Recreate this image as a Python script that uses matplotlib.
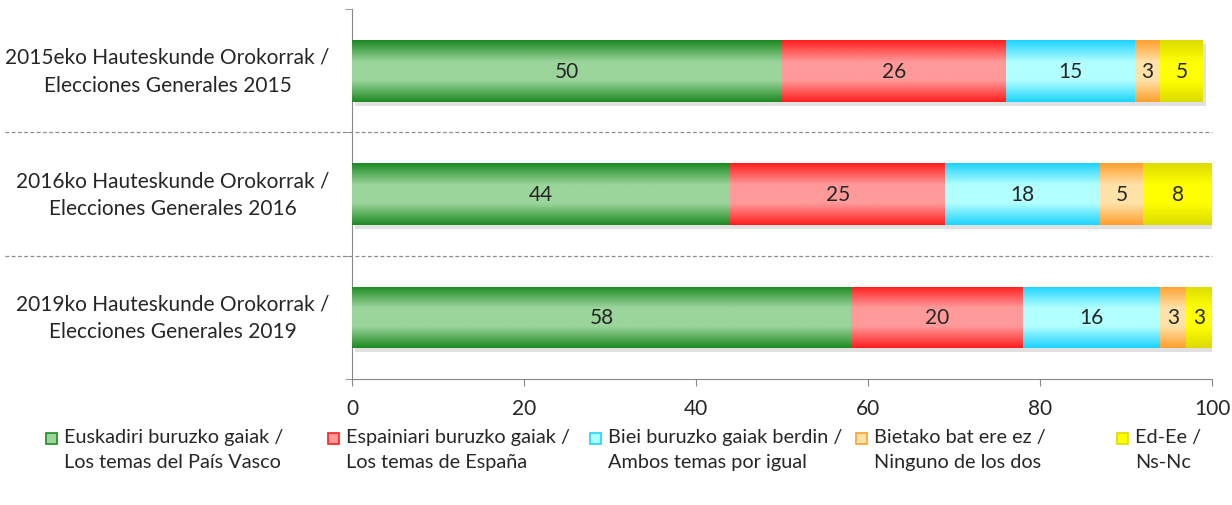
import numpy as np
import matplotlib
matplotlib.use("Agg")
import matplotlib.pyplot as plt
import matplotlib.patheffects as pe
from matplotlib.colors import LinearSegmentedColormap
from matplotlib.patches import Rectangle
import matplotlib.transforms as mtransforms

plt.rcParams['font.family'] = ['Lato', 'DejaVu Sans']

# data
categories = ["2015eko Hauteskunde Orokorrak /\nElecciones Generales 2015",
              "2016ko Hauteskunde Orokorrak /\nElecciones Generales 2016",
              "2019ko Hauteskunde Orokorrak /\nElecciones Generales 2019"]
series_names = ["Euskadiri buruzko gaiak /\nLos temas del País Vasco",
                "Espainiari buruzko gaiak /\nLos temas de España",
                "Biei buruzko gaiak berdin /\nAmbos temas por igual",
                "Bietako bat ere ez /\nNinguno de los dos",
                "Ed-Ee /\nNs-Nc"]
euskadi = [50, 44, 58]
espainia = [26, 25, 20]
biak = [15, 18, 16]
bat_ere_ez = [3, 5, 3]
ed_ee = [5, 8, 3]
values = [euskadi, espainia, biak, bat_ere_ez, ed_ee]
x_ticks = [0, 20, 40, 60, 80, 100]

# gradient colours (edge, centre) per series
edge_colors = ["#1f8a24", "#ff1f1f", "#1fd3ff", "#ffa030", "#dcdc00"]
mid_colors = ["#9bd59b", "#ff9a9a", "#b2ffff", "#ffe2a8", "#ffff00"]

FS = 15
fig = plt.figure(figsize=(12.32, 5.06), dpi=100)
ax = fig.add_axes([352/1232, 1-380/506, 860/1232, 370/506])

y = np.arange(len(categories))
left = np.zeros(len(categories))
grad = np.abs(np.linspace(-1, 1, 64)).reshape(-1, 1)
for vals, ec, mc in zip(values, edge_colors, mid_colors):
    cmap = LinearSegmentedColormap.from_list("g", [(0, mc), (0.3, mc), (1, ec)])
    bars = ax.barh(y, vals, left=left, height=0.5, color=mc, edgecolor="none",
                   path_effects=[pe.SimplePatchShadow(offset=(2, -3), shadow_rgbFace="#aaaaaa", alpha=0.35),
                                 pe.Normal()], zorder=2)
    for b, v in zip(bars, vals):
        x0, y0 = b.get_x(), b.get_y()
        im = ax.imshow(grad, cmap=cmap, vmin=0, vmax=1, aspect="auto",
                       extent=[x0, x0 + b.get_width(), y0 + b.get_height(), y0], zorder=3,
                       interpolation="bilinear")
        im.set_clip_path(b)
        ax.text(x0 + b.get_width() / 2, b.get_y() + b.get_height() / 2, str(v),
                ha="center", va="center", fontsize=FS, color="#262626", zorder=4)
    left = left + np.array(vals)

ax.set_xlim(0, 100)
ax.set_ylim(2.5, -0.5)
ax.set_aspect("auto")
ax.set_xticks(x_ticks)
ax.set_yticks(y)
ax.set_yticklabels(categories)
for t in ax.get_yticklabels():
    t.set_multialignment("center")
    t.set_linespacing(1.5)
    t.set_va("center")
ax.set_yticks([-0.5, 0.5, 1.5, 2.5], minor=True)
ax.tick_params(axis="y", which="major", length=0, pad=16, labelsize=FS, labelcolor="#262626")
ax.tick_params(axis="y", which="minor", length=5, color="#888888")
ax.tick_params(axis="x", length=5, color="#888888", labelsize=FS, labelcolor="#262626", pad=9)
for s in ["top", "right"]:
    ax.spines[s].set_visible(False)
for s in ["left", "bottom"]:
    ax.spines[s].set_color("#888888")

# dashed category separators
trans = mtransforms.blended_transform_factory(ax.transAxes, ax.transData)
for yy in [0.5, 1.5]:
    ax.plot([-0.403, 1.0], [yy, yy], transform=trans, clip_on=False,
            ls=(0, (3, 2)), lw=0.9, color="#8c8c8c", zorder=1)

# legend
leg_x = [46, 328, 590, 856, 1117]
for lx, name, ec, mc in zip(leg_x, series_names, edge_colors, mid_colors):
    fig.patches.append(Rectangle((lx/1232, 1-445/506), 11/1232, 11/506, transform=fig.transFigure,
                                 facecolor=mc, edgecolor=ec, lw=1.2))
    fig.text((lx + 18)/1232, 1-429/506, name, ha="left", va="top", fontsize=14.3,
             color="#262626", linespacing=1.55)

fig.savefig("out.png", dpi=100)
